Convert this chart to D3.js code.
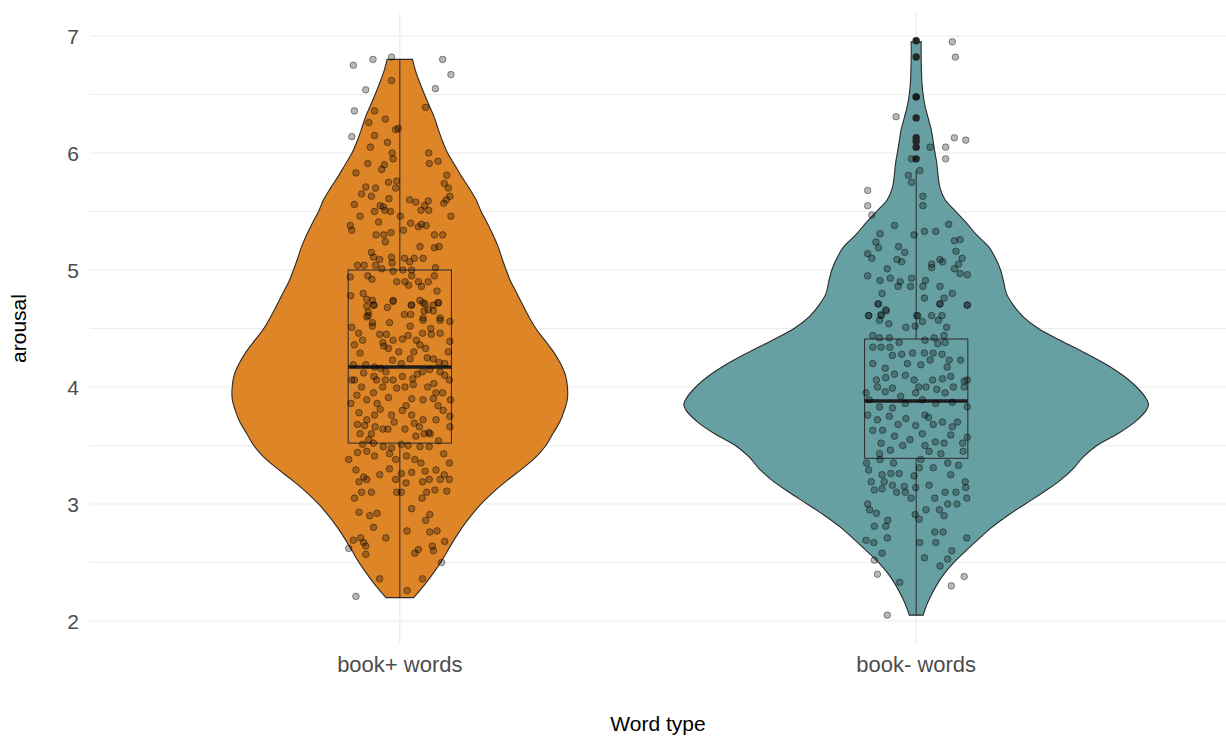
<!DOCTYPE html>
<html>
<head>
<meta charset="utf-8">
<script src="https://cdn.jsdelivr.net/npm/d3@7"></script>
<style>
body { margin: 0; background: #fff; }
text { font-family: "Liberation Sans", Arial, sans-serif; }
</style>
</head>
<body>
<div id="graphHolder"></div>
<script>
var categories = ["book+ words", "book- words"];
var fills = ["#DE8528", "#67A0A2"];
var yTicks = [2, 3, 4, 5, 6, 7];
var yMinorTicks = [2.5, 3.5, 4.5, 5.5, 6.5];

// violin outline: arousal levels and the kernel density read at each level
var plusLevels = [6.8, 6.7, 6.6, 6.5, 6.4, 6.3, 6.2, 6.1, 6.0, 5.9, 5.8, 5.7, 5.6, 5.5, 5.4, 5.3, 5.2, 5.1, 5.0, 4.9,
    4.8, 4.7, 4.6, 4.5, 4.4, 4.3, 4.2, 4.1, 4.0, 3.9, 3.8, 3.7, 3.6, 3.5, 3.4, 3.3, 3.2, 3.1, 3.0, 2.9,
    2.8, 2.7, 2.6, 2.5, 2.4, 2.3, 2.2];
var plusDensity = [0.033, 0.041, 0.052, 0.064, 0.077, 0.090, 0.100, 0.111, 0.124, 0.142, 0.160, 0.180, 0.198, 0.211,
    0.227, 0.242, 0.255, 0.265, 0.276, 0.288, 0.304, 0.319, 0.335, 0.353, 0.376, 0.399, 0.417, 0.430, 0.435, 0.435,
    0.427, 0.415, 0.397, 0.379, 0.353, 0.317, 0.278, 0.242, 0.211, 0.185, 0.162, 0.142, 0.124, 0.106, 0.085, 0.062, 0.036];
var minusLevels = [6.95, 6.8, 6.6, 6.5, 6.4, 6.3, 6.2, 6.1, 6.0, 5.9, 5.8, 5.7, 5.6, 5.5, 5.4, 5.3, 5.2, 5.1, 5.0, 4.9,
    4.8, 4.7, 4.6, 4.5, 4.4, 4.3, 4.2, 4.1, 4.0, 3.9, 3.85, 3.8, 3.7, 3.6, 3.5, 3.4, 3.3, 3.2, 3.1, 3.0,
    2.9, 2.8, 2.7, 2.6, 2.5, 2.4, 2.3, 2.2, 2.1, 2.05];
var minusDensity = [0.013, 0.013, 0.015, 0.018, 0.023, 0.031, 0.039, 0.044, 0.049, 0.054, 0.057, 0.062, 0.075, 0.103,
    0.131, 0.157, 0.188, 0.206, 0.219, 0.227, 0.234, 0.252, 0.278, 0.317, 0.373, 0.433, 0.489, 0.536, 0.572, 0.597,
    0.603, 0.597, 0.567, 0.523, 0.469, 0.433, 0.407, 0.373, 0.330, 0.283, 0.237, 0.196, 0.162, 0.129, 0.098, 0.072,
    0.052, 0.036, 0.023, 0.018];

// boxplot: lower whisker, Q1, median, Q3, upper whisker
var plusBox = [2.2, 3.52, 4.17, 5.0, 6.8];
var minusBox = [2.05, 3.39, 3.88, 4.41, 5.85];
var plusOutliers = [];
var minusOutliers = [6.96, 6.82, 6.48, 6.30, 6.13, 6.10, 6.05, 5.95];

// jittered words: [horizontal jitter (category units), arousal]
var plusPoints = [
    [-0.090, 6.75], [-0.052, 6.80], [-0.016, 6.82], [0.083, 6.80], [0.099, 6.67], [-0.066, 6.54], [0.069, 6.55],
    [-0.088, 6.36], [-0.093, 6.14], [0.050, 6.39], [-0.060, 6.26], [-0.016, 6.62], [-0.049, 6.36], [-0.028, 6.29],
    [-0.003, 6.21], [-0.008, 6.20], [-0.049, 6.15], [-0.024, 6.09], [-0.057, 6.05], [-0.015, 6.00], [0.056, 6.00],
    [-0.013, 5.95], [-0.030, 5.90], [-0.062, 5.91], [0.057, 5.91], [0.074, 5.93], [-0.035, 5.86], [-0.085, 5.83],
    [0.091, 5.81], [-0.066, 5.71], [0.086, 5.74], [-0.022, 5.75], [-0.006, 5.76], [0.094, 5.70], [-0.074, 5.65],
    [-0.047, 5.70], [-0.008, 5.70], [-0.055, 5.63], [-0.021, 5.61], [0.097, 5.63], [0.090, 5.60], [0.019, 5.60],
    [0.031, 5.58], [0.055, 5.59], [-0.088, 5.56], [-0.038, 5.55], [-0.032, 5.54], [0.048, 5.55], [0.085, 5.57],
    [0.041, 5.51], [0.056, 5.51], [-0.029, 5.51], [-0.018, 5.50], [-0.049, 5.50], [-0.077, 5.46], [0.001, 5.46],
    [0.099, 5.46], [-0.096, 5.38], [-0.093, 5.34], [-0.041, 5.41], [0.021, 5.40], [0.042, 5.39], [0.036, 5.37],
    [0.051, 5.38], [0.007, 5.34], [-0.046, 5.30], [-0.031, 5.30], [-0.017, 5.32], [-0.028, 5.24], [0.067, 5.30],
    [0.083, 5.30], [0.039, 5.20], [0.067, 5.19], [0.076, 5.20], [-0.055, 5.15], [-0.051, 5.11], [-0.039, 5.09],
    [-0.016, 5.11], [0.009, 5.10], [0.028, 5.10], [0.045, 5.10], [-0.082, 5.04], [-0.069, 5.04], [-0.047, 5.04],
    [-0.035, 5.01], [-0.015, 5.06], [0.019, 5.07], [-0.013, 4.99], [0.006, 5.00], [0.023, 5.00], [0.069, 5.02],
    [-0.096, 4.94], [-0.062, 4.95], [-0.054, 4.92], [-0.006, 4.90], [0.010, 4.90], [0.023, 4.95], [0.036, 4.90],
    [0.042, 4.86], [0.055, 4.90], [0.067, 4.95], [0.017, 4.87], [0.072, 4.82], [-0.095, 4.78], [-0.071, 4.80],
    [-0.064, 4.75], [-0.053, 4.74], [-0.050, 4.70], [-0.024, 4.68], [-0.013, 4.74], [0.022, 4.70], [0.039, 4.74],
    [0.049, 4.71], [0.075, 4.72], [0.047, 4.65], [0.065, 4.65], [-0.061, 4.64], [0.009, 4.62], [0.021, 4.62],
    [0.045, 4.59], [0.078, 4.59], [-0.061, 4.61],
    [-0.064, 4.69], [-0.051, 4.70], [-0.013, 4.73], [0.023, 4.70], [0.045, 4.72], [0.055, 4.66], [0.065, 4.70],
    [0.074, 4.72], [0.045, 4.57], [-0.064, 4.60], [0.078, 4.57], [-0.093, 4.51], [-0.080, 4.46], [-0.053, 4.55],
    [-0.053, 4.52], [-0.039, 4.45], [-0.026, 4.45], [-0.013, 4.40], [0.005, 4.41], [0.016, 4.44], [0.032, 4.40],
    [0.044, 4.46], [0.061, 4.45], [0.078, 4.46], [0.097, 4.56], [0.097, 4.39], [-0.088, 4.36], [-0.072, 4.40],
    [-0.033, 4.38], [-0.031, 4.35], [-0.022, 4.33], [-0.002, 4.30], [0.027, 4.30], [0.039, 4.36], [0.050, 4.33],
    [0.053, 4.25], [0.065, 4.24], [0.076, 4.21], [0.087, 4.20], [0.094, 4.30], [-0.077, 4.29], [-0.014, 4.23],
    [0.003, 4.20], [0.020, 4.24], [-0.090, 4.19], [-0.066, 4.19], [-0.049, 4.17], [-0.037, 4.16], [-0.093, 4.06],
    [-0.088, 4.06], [-0.050, 4.09], [-0.045, 4.06], [-0.028, 4.06], [-0.013, 4.06], [0.005, 4.09], [0.025, 4.07],
    [0.044, 4.13], [0.058, 4.15], [0.078, 4.13], [0.096, 4.06], [0.087, 4.10], [-0.074, 4.00], [-0.051, 3.95],
    [-0.033, 4.00], [-0.006, 3.99], [0.010, 4.00], [0.026, 4.02], [0.054, 4.00], [0.070, 3.95], [0.083, 3.95],
    [-0.095, 3.86], [-0.064, 3.89], [-0.044, 3.86], [-0.022, 3.91], [0.023, 3.90], [0.045, 3.89], [0.065, 3.90],
    [0.098, 3.89], [0.074, 3.84], [-0.079, 3.78], [-0.064, 3.72], [-0.049, 3.76], [-0.016, 3.76], [0.005, 3.80],
    [0.023, 3.76], [0.045, 3.72], [0.070, 3.72], [0.097, 3.75], [-0.011, 3.70], [-0.082, 3.68], [-0.068, 3.67],
    [-0.048, 3.66], [-0.033, 3.64], [0.028, 3.69], [0.038, 3.66], [0.056, 3.61], [0.097, 3.66], [-0.077, 3.60],
    [-0.055, 3.60], [-0.023, 3.64], [0.010, 3.64], [0.047, 3.60], [0.059, 3.60], [-0.072, 3.51], [-0.051, 3.52],
    [-0.032, 3.49], [-0.016, 3.48], [0.003, 3.51], [0.016, 3.50], [0.039, 3.49], [0.057, 3.49], [-0.082, 3.44],
    [-0.064, 3.45], [-0.049, 3.41], [-0.020, 3.43], [-0.008, 3.38], [0.013, 3.41], [0.029, 3.38], [0.041, 3.35],
    [0.085, 3.43], [0.096, 3.35], [-0.099, 3.38], [-0.085, 3.29], [-0.070, 3.23], [-0.039, 3.25], [-0.020, 3.30],
    [0.003, 3.26], [0.023, 3.27], [0.049, 3.28], [0.070, 3.29], [0.086, 3.25], [0.096, 3.21], [-0.079, 3.19],
    [-0.064, 3.21], [-0.008, 3.21], [0.012, 3.18], [0.044, 3.19], [0.057, 3.21], [0.078, 3.21], [-0.074, 3.10],
    [-0.055, 3.10], [-0.006, 3.10], [0.003, 3.10], [0.052, 3.10], [0.068, 3.12], [0.091, 3.11], [-0.088, 3.05],
    [0.043, 3.05], [-0.079, 2.93], [-0.058, 2.90], [-0.044, 2.92], [0.023, 2.96], [-0.051, 2.80], [0.050, 2.86],
    [0.058, 2.91], [0.014, 2.77], [0.058, 2.76], [0.072, 2.77], [-0.027, 2.71], [-0.090, 2.69], [-0.076, 2.71],
    [-0.070, 2.67], [-0.066, 2.64], [0.029, 2.58], [0.036, 2.61], [0.063, 2.64], [0.065, 2.60], [0.087, 2.68],
    [-0.066, 2.57], [-0.039, 2.36], [0.044, 2.36], [0.014, 2.26], [-0.099, 2.62], [0.081, 2.50], [-0.085, 2.21],
    [-0.070, 4.12], [-0.027, 4.13], [0.034, 4.11], [0.066, 4.03], [-0.083, 3.93], [0.012, 3.84], [0.084, 3.80],
    [-0.038, 3.81], [0.031, 3.58], [-0.060, 3.55], [0.075, 3.54], [0.020, 4.52], [-0.020, 4.55], [0.060, 4.50]
];
var minusPoints = [
    [0.070, 6.95], [0.076, 6.82], [-0.039, 6.31], [0.074, 6.13], [0.096, 6.11], [0.057, 6.05], [0.057, 5.95],
    [0.000, 6.48], [-0.094, 5.68], [-0.094, 5.55], [-0.086, 5.47],
    [0.027, 6.05], [-0.009, 5.95], [0.007, 5.85], [-0.015, 5.81], [-0.009, 5.75], [0.013, 5.63], [0.013, 5.55],
    [-0.042, 5.38], [-0.070, 5.31], [-0.004, 5.30], [0.016, 5.33], [0.038, 5.33], [0.063, 5.39], [-0.078, 5.24],
    [-0.073, 5.19], [-0.034, 5.20], [-0.022, 5.15], [0.074, 5.25], [0.085, 5.26], [0.077, 5.16], [-0.094, 5.14],
    [-0.086, 5.10], [-0.037, 5.09], [-0.028, 5.07], [-0.056, 5.01], [-0.094, 4.95], [-0.070, 4.91], [-0.050, 4.93],
    [-0.035, 4.86], [-0.031, 4.90], [-0.011, 4.86], [-0.009, 4.93], [0.013, 4.86], [0.018, 4.91], [0.030, 5.05],
    [0.030, 5.02], [0.046, 5.09], [0.051, 5.07], [0.074, 5.01], [0.082, 5.05], [0.089, 5.10], [0.085, 4.97],
    [0.099, 4.96], [0.046, 4.86], [-0.066, 4.80], [-0.074, 4.71], [-0.058, 4.65], [-0.092, 4.61], [-0.068, 4.61],
    [0.016, 4.76], [0.054, 4.76], [0.046, 4.71], [0.070, 4.80], [0.099, 4.70], [0.003, 4.61], [0.030, 4.61],
    [0.050, 4.61],
    [-0.073, 4.71], [0.099, 4.70], [0.046, 4.71], [-0.092, 4.61], [-0.068, 4.62], [-0.059, 4.66], [0.001, 4.61],
    [-0.071, 4.57], [-0.053, 4.54], [-0.020, 4.51], [-0.002, 4.52], [0.012, 4.56], [0.043, 4.57], [0.059, 4.51],
    [-0.084, 4.44], [-0.071, 4.42], [-0.052, 4.42], [0.017, 4.40], [0.035, 4.42], [0.054, 4.44], [-0.084, 4.34],
    [-0.068, 4.34], [-0.051, 4.34], [-0.033, 4.38], [0.042, 4.37], [0.056, 4.38], [-0.046, 4.27], [-0.028, 4.28],
    [-0.007, 4.29], [0.016, 4.29], [0.033, 4.29], [0.050, 4.28], [0.064, 4.23], [0.086, 4.23], [-0.084, 4.20],
    [-0.017, 4.20], [0.009, 4.19], [0.027, 4.23], [-0.021, 4.10], [-0.059, 4.08], [-0.042, 4.11], [-0.077, 4.06],
    [-0.004, 4.06], [0.032, 4.06], [0.051, 4.07], [0.067, 4.09], [0.093, 4.05], [0.099, 4.06], [-0.097, 3.95],
    [-0.075, 4.00], [-0.046, 3.99], [-0.001, 3.95], [0.019, 4.00], [0.056, 3.95], [0.072, 4.00], [0.093, 4.00],
    [-0.091, 3.89], [-0.071, 3.83], [-0.046, 3.82], [-0.021, 3.86], [0.012, 3.89], [0.038, 3.86], [0.070, 3.87],
    [0.099, 3.83], [-0.094, 3.76], [-0.075, 3.72], [-0.052, 3.75], [-0.020, 3.73], [0.017, 3.76], [0.024, 3.74],
    [0.033, 3.68], [0.051, 3.70], [0.070, 3.66], [-0.084, 3.63], [-0.065, 3.63], [-0.042, 3.58], [-0.012, 3.55],
    [-0.001, 3.67], [0.012, 3.60], [0.037, 3.53], [0.054, 3.52], [0.067, 3.59], [0.090, 3.52], [0.099, 3.57],
    [-0.068, 3.52], [-0.026, 3.50], [0.017, 3.50], [-0.071, 3.43], [0.048, 3.43], [0.091, 3.45], [-0.096, 3.35],
    [-0.092, 3.29], [-0.070, 3.38], [-0.044, 3.35], [0.009, 3.38], [0.006, 3.31], [0.033, 3.31], [0.061, 3.35],
    [0.082, 3.33], [-0.066, 3.25], [-0.049, 3.26], [-0.033, 3.26], [-0.004, 3.24], [0.067, 3.25], [-0.087, 3.19],
    [-0.062, 3.19], [-0.046, 3.16], [-0.023, 3.15], [-0.001, 3.14], [0.025, 3.16], [0.095, 3.19], [-0.081, 3.12],
    [-0.066, 3.13], [-0.038, 3.10], [-0.021, 3.10], [-0.010, 3.05], [0.056, 3.10], [0.077, 3.10], [0.096, 3.14],
    [0.036, 3.05], [-0.094, 3.00], [-0.090, 2.95], [-0.077, 2.92], [-0.055, 2.86], [-0.059, 2.81], [-0.081, 2.81],
    [-0.056, 2.71], [-0.097, 2.69], [-0.082, 2.67], [-0.066, 2.58], [-0.002, 2.91], [0.006, 2.87], [0.019, 2.95],
    [0.045, 2.95], [0.061, 3.00], [0.079, 3.00], [0.098, 3.05], [0.054, 2.90], [0.036, 2.76], [0.052, 2.76],
    [0.038, 2.67], [0.007, 2.67], [0.098, 2.71], [0.069, 2.60], [0.016, 2.54], [0.061, 2.53], [0.046, 2.47],
    [-0.032, 2.33], [-0.081, 2.52], [-0.075, 2.40], [0.068, 2.30], [0.093, 2.38], [-0.056, 2.05],
    [-0.060, 3.96], [0.040, 3.98], [-0.030, 3.92], [0.080, 3.70], [-0.035, 3.68], [0.025, 3.45], [-0.050, 3.46],
    [0.060, 4.17], [-0.060, 4.16], [0.005, 4.00]
];

var graphWidth = 1226;
var graphHeight = 738;

var groups = [
    { name: categories[0], fill: fills[0], levels: plusLevels, density: plusDensity, box: plusBox, outliers: plusOutliers, points: plusPoints },
    { name: categories[1], fill: fills[1], levels: minusLevels, density: minusDensity, box: minusBox, outliers: minusOutliers, points: minusPoints }
];

var svg = d3.select("#graphHolder")
        .append("svg")
        .attr("width", graphWidth)
        .attr("height", graphHeight);

var panelLeft = 90, panelRight = graphWidth;

var x = d3.scalePoint()
        .domain(categories)
        .range([panelLeft, panelRight])
        .padding(0.6);
var step = x.step();

var y = d3.scaleLinear()
        .domain([1.805, 7.195])
        .range([643.8, 13.2]);

var maxDensity = d3.max(groups, function (g) { return d3.max(g.density); });
var w = d3.scaleLinear()
        .domain([0, maxDensity])
        .range([0, 0.45 * step]);

// grid
var grid = svg.append("g");
grid.selectAll(".minor").data(yMinorTicks).enter().append("line")
        .attr("x1", panelLeft).attr("x2", panelRight)
        .attr("y1", function (d) { return y(d); }).attr("y2", function (d) { return y(d); })
        .attr("stroke", "#EBEBEB").attr("stroke-width", 0.9);
grid.selectAll(".major").data(yTicks).enter().append("line")
        .attr("x1", panelLeft).attr("x2", panelRight)
        .attr("y1", function (d) { return y(d); }).attr("y2", function (d) { return y(d); })
        .attr("stroke", "#EBEBEB").attr("stroke-width", 1.2);
grid.selectAll(".vert").data(categories).enter().append("line")
        .attr("x1", function (d) { return x(d); }).attr("x2", function (d) { return x(d); })
        .attr("y1", y.range()[1]).attr("y2", y.range()[0])
        .attr("stroke", "#EBEBEB").attr("stroke-width", 1.2);

// violins
groups.forEach(function (g) {
    var cx = x(g.name);
    var rows = g.levels.map(function (v, i) { return { v: v, d: g.density[i] }; });
    var area = d3.area()
            .y(function (d) { return y(d.v); })
            .x0(function (d) { return cx - w(d.d); })
            .x1(function (d) { return cx + w(d.d); })
            .curve(d3.curveCatmullRom);
    svg.append("path")
            .datum(rows)
            .attr("fill", g.fill)
            .attr("stroke", "#2b2b2b")
            .attr("stroke-width", 1.1)
            .attr("d", area);
});

// boxplots
var boxW = 0.2 * step;
groups.forEach(function (g) {
    var cx = x(g.name), b = g.box;
    var bg = svg.append("g").attr("stroke", "#333").attr("fill", "none");
    bg.append("line").attr("x1", cx).attr("x2", cx).attr("y1", y(b[0])).attr("y2", y(b[1])).attr("stroke-width", 1.1);
    bg.append("line").attr("x1", cx).attr("x2", cx).attr("y1", y(b[3])).attr("y2", y(b[4])).attr("stroke-width", 1.1);
    bg.append("rect")
            .attr("x", cx - boxW / 2).attr("width", boxW)
            .attr("y", y(b[3])).attr("height", y(b[1]) - y(b[3]))
            .attr("stroke-width", 1.1);
    bg.append("line")
            .attr("x1", cx - boxW / 2).attr("x2", cx + boxW / 2)
            .attr("y1", y(b[2])).attr("y2", y(b[2]))
            .attr("stroke", "#1e1e1e").attr("stroke-width", 3.5);
    svg.append("g").selectAll("circle").data(g.outliers).enter().append("circle")
            .attr("cx", cx).attr("cy", function (d) { return y(d); })
            .attr("r", 3.7)
            .attr("fill", "#262626");
});

// jittered points
groups.forEach(function (g) {
    var cx = x(g.name);
    svg.append("g").selectAll("circle").data(g.points).enter().append("circle")
            .attr("cx", function (d) { return cx + d[0] * step; })
            .attr("cy", function (d) { return y(d[1]); })
            .attr("r", 3.3)
            .attr("fill", "#000").attr("fill-opacity", 0.28)
            .attr("stroke", "#000").attr("stroke-opacity", 0.4)
            .attr("stroke-width", 1);
});

// axes text
svg.append("g").selectAll("text").data(yTicks).enter().append("text")
        .attr("x", 79).attr("y", function (d) { return y(d); })
        .attr("dy", "0.36em")
        .attr("text-anchor", "end")
        .attr("fill", "#4D4D4D").attr("font-size", 21)
        .text(function (d) { return d; });

svg.append("g").selectAll("text").data(categories).enter().append("text")
        .attr("x", function (d) { return x(d); }).attr("y", 672)
        .attr("text-anchor", "middle")
        .attr("fill", "#4D4D4D").attr("font-size", 22)
        .text(function (d) { return d; });

svg.append("text")
        .attr("x", (panelLeft + panelRight) / 2).attr("y", 731)
        .attr("text-anchor", "middle")
        .attr("fill", "#000").attr("font-size", 21)
        .text("Word type");

svg.append("text")
        .attr("transform", "translate(26," + (y.range()[0] + y.range()[1]) / 2 + ") rotate(-90)")
        .attr("text-anchor", "middle")
        .attr("fill", "#000").attr("font-size", 21)
        .text("arousal");
</script>
</body>
</html>
